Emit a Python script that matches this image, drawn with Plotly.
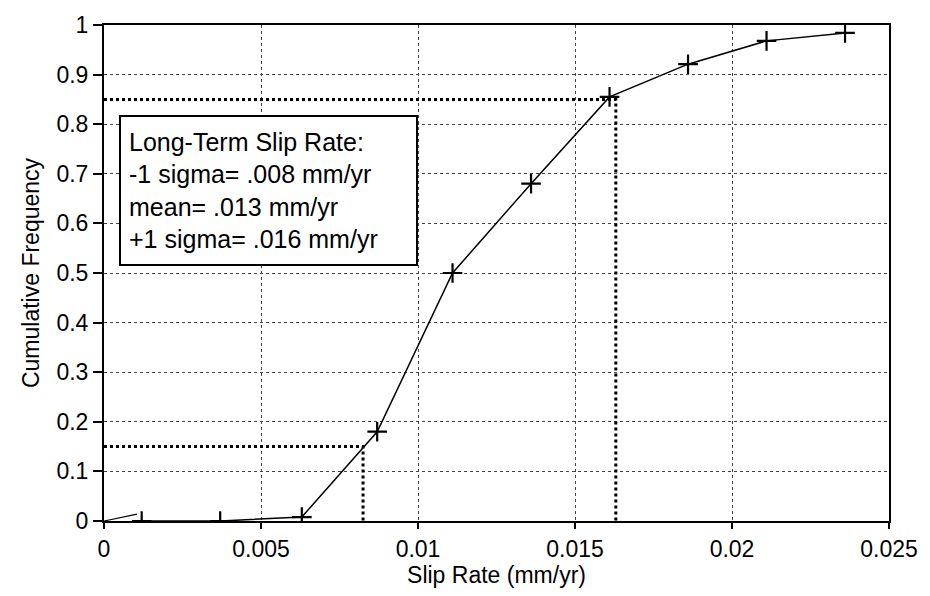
import plotly.graph_objects as go

# Cumulative frequency curve
slip_rate = [0.0012, 0.0037, 0.0063, 0.0087, 0.0111, 0.0136, 0.0161, 0.0186, 0.0211, 0.0236]
cum_freq = [0.0, 0.0, 0.008, 0.18, 0.5, 0.68, 0.855, 0.921, 0.968, 0.984]

# small stray segment at the origin
start_x = [0.0, 0.00105]
start_y = [0.0, 0.014]

# sigma guide lines
minus_sigma_x = [0.0, 0.00825, 0.00825]
minus_sigma_y = [0.15, 0.15, 0.0]
plus_sigma_x = [0.0, 0.0163, 0.0163]
plus_sigma_y = [0.85, 0.85, 0.0]

box_lines = ["Long-Term Slip Rate:", "-1 sigma= .008 mm/yr", "mean= .013 mm/yr", "+1 sigma= .016 mm/yr"]

FONT = "Arial, Liberation Sans, sans-serif"

fig = go.Figure()
for gx, gy in [(minus_sigma_x, minus_sigma_y), (plus_sigma_x, plus_sigma_y)]:
    fig.add_trace(go.Scatter(x=gx, y=gy, mode="lines",
                             line=dict(color="black", width=3, dash="dot"),
                             showlegend=False, hoverinfo="skip"))
fig.add_trace(go.Scatter(x=start_x, y=start_y, mode="lines",
                         line=dict(color="black", width=1.2), showlegend=False))
fig.add_trace(go.Scatter(x=slip_rate, y=cum_freq, mode="lines+markers",
                         line=dict(color="black", width=1.5),
                         marker=dict(symbol="cross-thin", size=14,
                                     line=dict(color="black", width=2.2)),
                         showlegend=False))

fig.add_annotation(
    x=0.00048, y=0.8185, xref="x", yref="y", xanchor="left", yanchor="top",
    text="<br>".join(box_lines), showarrow=False, align="left", valign="middle",
    width=279, height=131, borderpad=8,
    bordercolor="black", borderwidth=2, bgcolor="white",
    font=dict(family=FONT, size=25, color="black"),
)

fig.update_layout(
    width=930, height=596,
    margin=dict(l=104, r=37, t=17, b=72),
    paper_bgcolor="white", plot_bgcolor="white",
    font=dict(family=FONT, size=23, color="black"),
)
fig.update_xaxes(
    range=[0, 0.025], dtick=0.005, tick0=0,
    showline=True, mirror=True, linecolor="black", linewidth=2,
    ticks="outside", ticklen=6, tickcolor="black", tickwidth=1.5,
    showgrid=True, gridcolor="#444", griddash="dot", gridwidth=1,
    zeroline=False,
    title=dict(text="Slip Rate (mm/yr)", standoff=6, font=dict(size=23)),
)
fig.update_yaxes(
    range=[0, 1], dtick=0.1, tick0=0,
    showline=True, mirror=True, linecolor="black", linewidth=2,
    ticks="outside", ticklen=9, tickcolor="black", tickwidth=1.5,
    showgrid=True, gridcolor="#444", griddash="dot", gridwidth=1,
    zeroline=False,
    title=dict(text="Cumulative Frequency", standoff=10, font=dict(size=23)),
)

fig.write_html("out.html")
